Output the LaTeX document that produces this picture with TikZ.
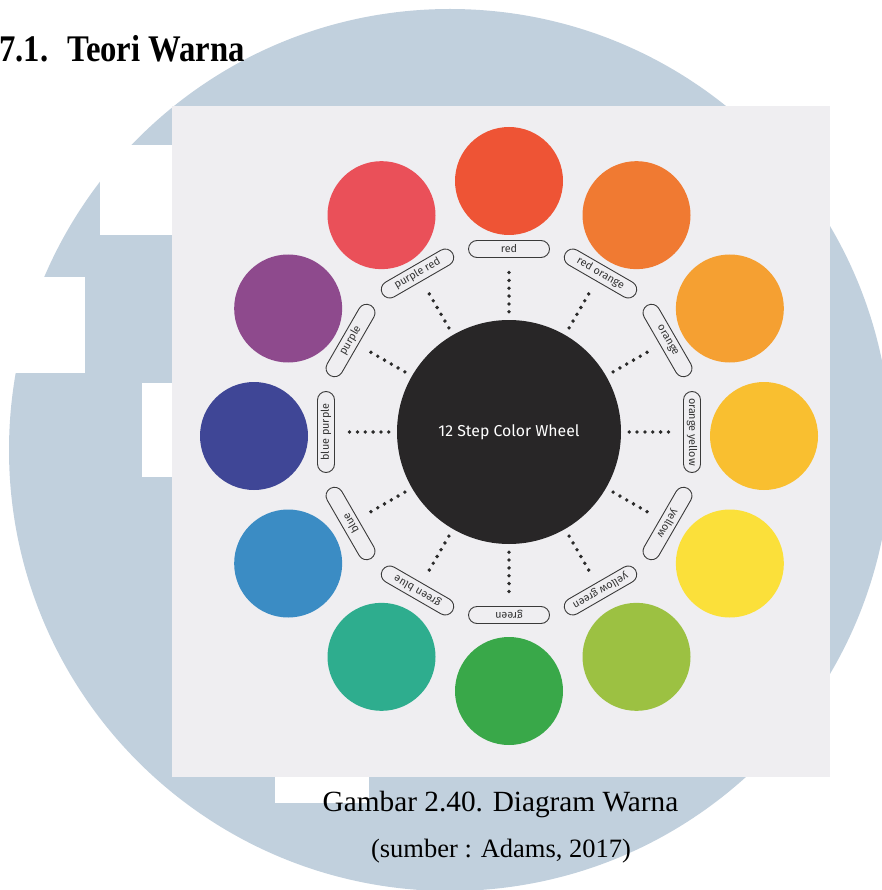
\documentclass[tikz,border=0pt]{standalone}
\usepackage{fontspec}
\usepackage{graphicx}
\setmainfont{Liberation Serif}
\newfontfamily\wheelfont{Fira Sans}
\definecolor{wm}{HTML}{C1D0DD}
\definecolor{photo}{HTML}{EFEEF1}
\definecolor{hubblack}{HTML}{282627}
\definecolor{pillline}{HTML}{3A3A3A}
\definecolor{labeltext}{HTML}{333333}
\definecolor{dotcol}{HTML}{2A2A2A}
\definecolor{cRed}{HTML}{EE5435}
\definecolor{cRO}{HTML}{F07A32}
\definecolor{cOr}{HTML}{F5A032}
\definecolor{cOY}{HTML}{F9BF30}
\definecolor{cYe}{HTML}{FBE03A}
\definecolor{cYG}{HTML}{9CC142}
\definecolor{cGr}{HTML}{39A849}
\definecolor{cGB}{HTML}{2EAD8E}
\definecolor{cBl}{HTML}{3B8CC4}
\definecolor{cBP}{HTML}{3F4696}
\definecolor{cPu}{HTML}{8E4A8D}
\definecolor{cPR}{HTML}{EA5059}
\begin{document}
\begin{tikzpicture}[x=1pt,y=-1pt,
  swatch/.style={circle, inner sep=0pt, minimum size=108pt, draw=none},
  pill/.style={draw=pillline, line width=0.9pt, fill=photo, rounded corners=8.5pt,
    minimum width=81pt, minimum height=17pt, inner sep=0pt, text=labeltext,
    font=\wheelfont\fontsize{10.8}{10.8}\selectfont},
  dotline/.style={draw=dotcol, line width=3.8pt, line cap=round,
    dash pattern=on 0pt off 7.85pt, shorten <=8pt, shorten >=7.3pt},
  hubstyle/.style={circle, fill=hubblack, inner sep=0pt, minimum size=224pt,
    text=white, font=\wheelfont\fontsize{15.8}{15.8}\selectfont}]
\useasboundingbox (0,0) rectangle (881,890);
% watermark
\fill[wm] (450,450) circle[radius=441];
\fill[white] (100,145) rectangle (300,235);
\fill[white] (-10,277) rectangle (85,373);
\fill[white] (142,383) rectangle (300,477);
\fill[white] (275,770) rectangle (369,803);
% photo
\fill[photo] (172,106) rectangle (830,777);
% hub
\node[hubstyle] (hub) at (509,432) {12 Step Color Wheel};
\foreach \a/\col/\txt [count=\i] in {90/cRed/red, 60/cRO/red orange, 30/cOr/orange,
  0/cOY/orange yellow, -30/cYe/yellow, -60/cYG/yellow green, -90/cGr/green,
  -120/cGB/green blue, -150/cBl/blue, 180/cBP/blue purple, 150/cPu/purple,
  120/cPR/purple red} {
  \node[swatch, fill=\col] (c\i) at ({509+255*cos(\a)},{436-255*sin(\a)}) {};
  \node[pill, rotate=\a-90] (l\i) at ({509+183*cos(\a)},{432-183*sin(\a)}) {\txt};
  \draw[dotline] (hub) -- (l\i);
}
% title and caption
\node[anchor=base west, inner sep=0pt, font=\bfseries\fontsize{32.7}{32.7}\selectfont] (title) at (-1,62) {\scalebox{1}[1.15]{7.1.\hspace{19pt}Teori Warna}};
\node[anchor=base, font=\fontsize{29.3}{29.3}\selectfont] (cap) at (500.5,811) {Gambar 2.40. Diagram Warna};
\node[anchor=base, font=\fontsize{26.5}{26.5}\selectfont] (src) at (501,857) {(sumber : Adams, 2017)};
\end{tikzpicture}
\end{document}
